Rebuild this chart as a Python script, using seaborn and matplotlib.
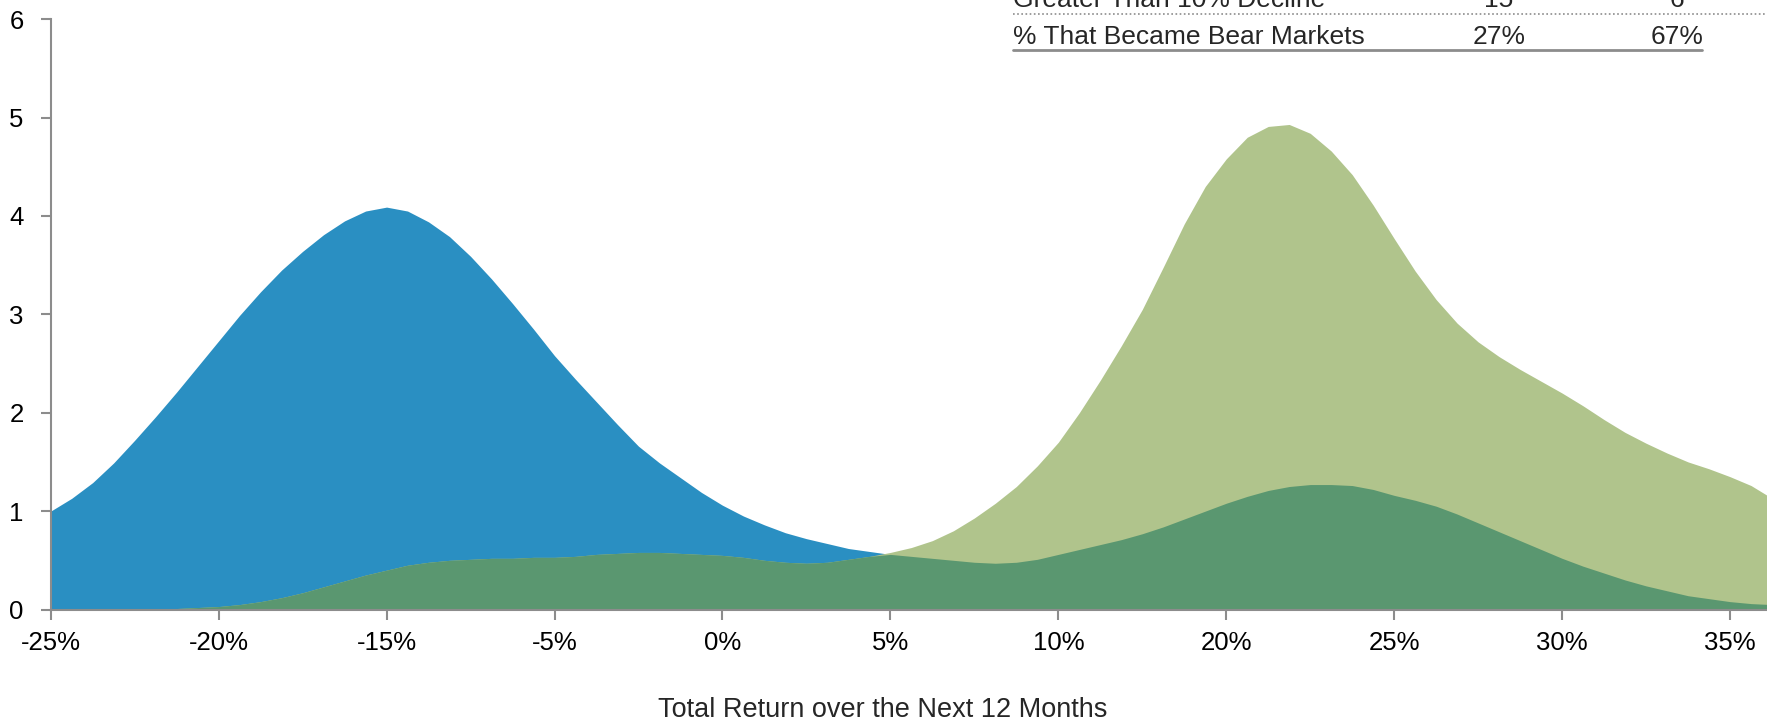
import numpy as np
import matplotlib
matplotlib.use("Agg")
import matplotlib.pyplot as plt
from matplotlib.lines import Line2D
import seaborn as sns

# x axis categories (evenly spaced, as in the source chart)
tick_labels = ['-25%', '-20%', '-15%', '-5%', '0%', '5%', '10%', '20%', '25%', '30%', '35%']

# sample positions along the category axis (in tick units, every 1/8 of a tick)
positions = np.linspace(0, 10.25, 83)

# density, blue series
density_blue = [1.00, 1.13, 1.29, 1.49, 1.72, 1.96, 2.21, 2.47, 2.73, 2.99,
                3.23, 3.45, 3.64, 3.81, 3.95, 4.05, 4.09, 4.05, 3.94, 3.79,
                3.59, 3.36, 3.11, 2.85, 2.58, 2.34, 2.11, 1.88, 1.66, 1.49,
                1.34, 1.19, 1.06, 0.95, 0.86, 0.78, 0.72, 0.67, 0.62, 0.59,
                0.56, 0.54, 0.52, 0.50, 0.48, 0.47, 0.48, 0.51, 0.56, 0.61,
                0.66, 0.71, 0.77, 0.84, 0.92, 1.00, 1.08, 1.15, 1.21, 1.25,
                1.27, 1.27, 1.26, 1.22, 1.16, 1.11, 1.05, 0.97, 0.88, 0.79,
                0.70, 0.61, 0.52, 0.44, 0.37, 0.30, 0.24, 0.19, 0.14, 0.11,
                0.08, 0.06, 0.05]

# density, green series
density_green = [0.00, 0.00, 0.00, 0.00, 0.00, 0.00, 0.01, 0.02, 0.03, 0.05,
                 0.08, 0.12, 0.17, 0.23, 0.29, 0.35, 0.40, 0.45, 0.48, 0.50,
                 0.51, 0.52, 0.52, 0.53, 0.53, 0.54, 0.56, 0.57, 0.58, 0.58,
                 0.57, 0.56, 0.55, 0.53, 0.50, 0.48, 0.47, 0.48, 0.51, 0.54,
                 0.58, 0.63, 0.70, 0.80, 0.93, 1.08, 1.25, 1.46, 1.70, 2.00,
                 2.33, 2.68, 3.05, 3.48, 3.92, 4.30, 4.58, 4.80, 4.91, 4.93,
                 4.84, 4.66, 4.42, 4.11, 3.77, 3.44, 3.15, 2.91, 2.72, 2.57,
                 2.44, 2.32, 2.20, 2.07, 1.93, 1.80, 1.69, 1.59, 1.50, 1.43,
                 1.35, 1.26, 1.13]

# table in the top right corner (cut off by the top edge)
table_rows = ['Greater Than 10% Decline', '% That Became Bear Markets']
table_col1 = ['15', '27%']
table_col2 = ['6', '67%']

x_label = 'Total Return over the Next 12 Months'

BLUE = '#2a8fc2'
LIGHT_GREEN = '#b0c48c'
DARK_GREEN = '#5a9770'
AXIS_GREY = '#8c8c8c'

sns.set_style('ticks')
plt.rcParams['font.family'] = ['Liberation Sans', 'DejaVu Sans']

W, H = 1767, 721
fig = plt.figure(figsize=(W / 100, H / 100), dpi=100)
ax = fig.add_axes([50.7 / W, 1 - 609.5 / H, 1 - 50.7 / W, (609.5 - 19.2) / H])

blue = np.array(density_blue)
green = np.array(density_green)
overlap = np.minimum(blue, green)

ax.fill_between(positions, 0, blue, color=BLUE, linewidth=0)
ax.fill_between(positions, 0, green, color=LIGHT_GREEN, linewidth=0)
ax.fill_between(positions, 0, overlap, color=DARK_GREEN, linewidth=0)
sns.lineplot(x=positions, y=blue, ax=ax, color=BLUE, linewidth=0)
sns.lineplot(x=positions, y=green, ax=ax, color=LIGHT_GREEN, linewidth=0)

ax.set_xlim(0, 10.22)
ax.set_ylim(0, 6)
ax.set_xticks(range(len(tick_labels)))
ax.set_xticklabels(tick_labels)
ax.set_yticks(range(7))
ax.set_xlabel('')
ax.set_ylabel('')

sns.despine(ax=ax)
for side in ['left', 'bottom']:
    ax.spines[side].set_color(AXIS_GREY)
    ax.spines[side].set_linewidth(1.5)
ax.tick_params(axis='both', colors=AXIS_GREY, length=7, width=1.5,
               labelcolor='black', labelsize=18.5)
ax.tick_params(axis='x', pad=8.5)
ax.tick_params(axis='y', pad=12.5)

fig.text(883 / W, 1 - 717 / H, x_label, fontsize=19.5, ha='center', va='baseline')

# table text
for label, c1, c2, y_px in zip(table_rows, table_col1, table_col2, [7, 44]):
    y_base = 1 - y_px / H
    fig.text(1013 / W, y_base, label, fontsize=19, va='baseline', ha='left')
    fig.text(1499 / W, y_base, c1, fontsize=19, va='baseline', ha='center')
    fig.text(1677 / W, y_base, c2, fontsize=19, va='baseline', ha='center')

fig.add_artist(Line2D([1013 / W, 1.0], [1 - 13.5 / H] * 2, transform=fig.transFigure,
                      color=AXIS_GREY, linewidth=1.2, linestyle=(0, (1, 1.5))))
fig.add_artist(Line2D([1013 / W, 1702 / W], [1 - 50 / H] * 2, transform=fig.transFigure,
                      color=AXIS_GREY, linewidth=2))

fig.savefig('out.png', dpi=100)
